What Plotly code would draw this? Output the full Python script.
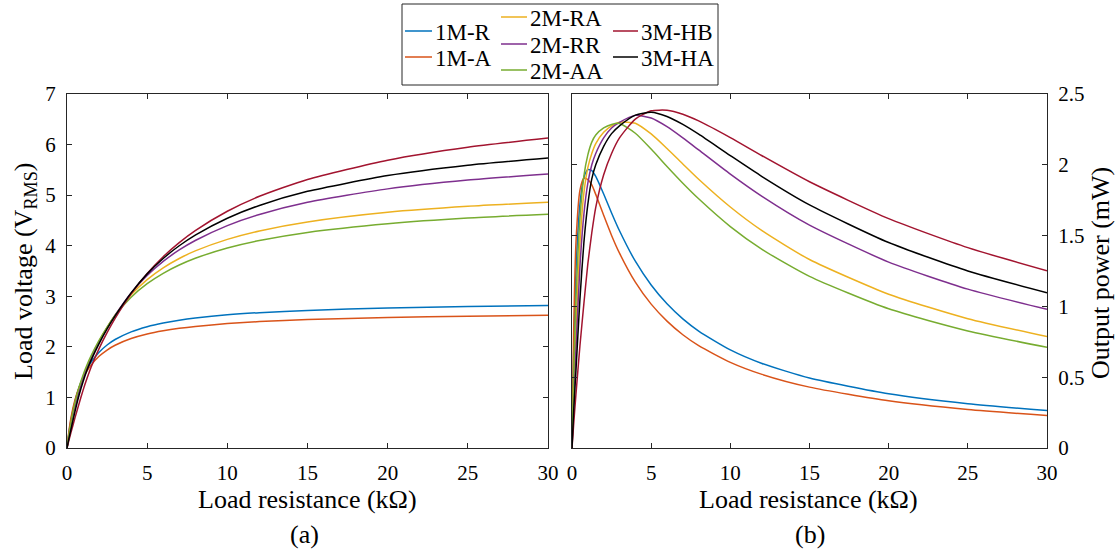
import plotly.graph_objects as go

# ---------------- data ----------------
R = [0, 0.1, 0.25, 0.5, 0.75, 1, 1.25, 1.5, 2, 2.5, 3, 4, 5, 6, 7, 8, 10, 12, 15, 20, 25, 30]

names = ["1M-R", "1M-A", "2M-RA", "2M-RR", "2M-AA", "3M-HB", "3M-HA"]
colors = ["#0072BD", "#D95319", "#EDB120", "#7E2F8E", "#77AC30", "#A2142F", "#000000"]

# Load voltage (V_RMS)
V_1MR = [0, 0.255, 0.559, 0.927, 1.197, 1.402, 1.565, 1.696, 1.894, 2.037, 2.145, 2.297, 2.399, 2.472, 2.527, 2.570, 2.633, 2.676, 2.721, 2.768, 2.796, 2.816]
V_1MA = [0, 0.283, 0.602, 0.954, 1.195, 1.377, 1.524, 1.639, 1.813, 1.937, 2.032, 2.164, 2.254, 2.318, 2.367, 2.405, 2.460, 2.499, 2.539, 2.581, 2.606, 2.624]
V_2MRA = [0, 0.200, 0.461, 0.851, 1.162, 1.407, 1.612, 1.796, 2.112, 2.385, 2.627, 3.029, 3.330, 3.562, 3.747, 3.897, 4.125, 4.292, 4.469, 4.660, 4.778, 4.860]
V_2MRR = [0, 0.179, 0.418, 0.800, 1.112, 1.367, 1.581, 1.766, 2.093, 2.377, 2.625, 3.066, 3.413, 3.690, 3.916, 4.103, 4.398, 4.617, 4.858, 5.124, 5.297, 5.419]
V_2MAA = [0, 0.224, 0.512, 0.900, 1.200, 1.439, 1.643, 1.821, 2.126, 2.390, 2.622, 2.982, 3.249, 3.454, 3.618, 3.752, 3.955, 4.103, 4.263, 4.435, 4.547, 4.620]
V_3MHB = [0, 0.126, 0.308, 0.600, 0.875, 1.140, 1.378, 1.597, 1.965, 2.280, 2.563, 3.048, 3.450, 3.783, 4.062, 4.299, 4.682, 4.977, 5.311, 5.692, 5.948, 6.128]
V_3MHA = [0, 0.158, 0.371, 0.725, 1.043, 1.311, 1.541, 1.732, 2.064, 2.356, 2.612, 3.067, 3.443, 3.748, 3.999, 4.210, 4.544, 4.796, 5.075, 5.387, 5.591, 5.735]

# Output power (mW)
P_1MR = [0, 0.65, 1.25, 1.72, 1.91, 1.966, 1.959, 1.918, 1.794, 1.660, 1.534, 1.319, 1.151, 1.018, 0.912, 0.826, 0.693, 0.597, 0.494, 0.383, 0.313, 0.264]
P_1MA = [0, 0.80, 1.45, 1.82, 1.905, 1.895, 1.858, 1.791, 1.643, 1.501, 1.376, 1.171, 1.016, 0.896, 0.800, 0.723, 0.605, 0.520, 0.430, 0.333, 0.272, 0.2295]
P_2MRA = [0, 0.40, 0.85, 1.45, 1.80, 1.98, 2.08, 2.15, 2.23, 2.275, 2.300, 2.294, 2.218, 2.115, 2.006, 1.898, 1.702, 1.535, 1.331, 1.086, 0.913, 0.787]
P_2MRR = [0, 0.32, 0.70, 1.28, 1.65, 1.87, 2.00, 2.08, 2.19, 2.26, 2.30, 2.349, 2.330, 2.269, 2.190, 2.105, 1.934, 1.777, 1.574, 1.313, 1.122, 0.979]
P_2MAA = [0, 0.50, 1.05, 1.62, 1.92, 2.07, 2.16, 2.21, 2.26, 2.285, 2.292, 2.223, 2.111, 1.988, 1.870, 1.760, 1.564, 1.403, 1.212, 0.983, 0.827, 0.711]
P_3MHB = [0, 0.16, 0.38, 0.72, 1.02, 1.30, 1.52, 1.70, 1.93, 2.08, 2.19, 2.323, 2.381, 2.385, 2.357, 2.310, 2.192, 2.064, 1.880, 1.620, 1.415, 1.252]
P_3MHA = [0, 0.25, 0.55, 1.05, 1.45, 1.72, 1.90, 2.00, 2.13, 2.22, 2.275, 2.351, 2.371, 2.341, 2.285, 2.216, 2.065, 1.917, 1.717, 1.451, 1.250, 1.096]

x_ticks = [0, 5, 10, 15, 20, 25, 30]
v_ticks = [0, 1, 2, 3, 4, 5, 6, 7]
p_ticks = [0, 0.5, 1, 1.5, 2, 2.5]

V_all = [V_1MR, V_1MA, V_2MRA, V_2MRR, V_2MAA, V_3MHB, V_3MHA]
P_all = [P_1MR, P_1MA, P_2MRA, P_2MRR, P_2MAA, P_3MHB, P_3MHA]

# ---------------- figure ----------------
W, H = 1118, 554
FONT = "Liberation Serif, Times New Roman, serif"
AX = "#262626"


def px(x):
    return x / W


def py(y):
    return 1 - y / H


fig = go.Figure()
for name, col, v, p in zip(names, colors, V_all, P_all):
    fig.add_trace(go.Scatter(x=R, y=v, mode="lines", name=name, showlegend=False,
                             line=dict(color=col, width=1.5, shape="spline", smoothing=0.6),
                             xaxis="x", yaxis="y"))
    fig.add_trace(go.Scatter(x=R, y=p, mode="lines", name=name, showlegend=False,
                             line=dict(color=col, width=1.5, shape="spline", smoothing=0.6),
                             xaxis="x2", yaxis="y2"))

ydom = [py(448), py(94)]
common = dict(showgrid=False, zeroline=False, showline=True, linecolor=AX, linewidth=1,
              mirror="ticks", ticks="inside", ticklen=5, tickwidth=1, tickcolor=AX,
              tickfont=dict(family=FONT, size=21, color="black"), automargin=False)

fig.update_layout(
    width=W, height=H, margin=dict(l=0, r=0, t=0, b=0),
    paper_bgcolor="white", plot_bgcolor="white",
    font=dict(family=FONT, color="black"),
    xaxis=dict(domain=[px(67), px(548)], range=[0, 30], tickvals=x_ticks, anchor="y",
               ticklabelstandoff=6, **common),
    yaxis=dict(domain=ydom, range=[0, 7], tickvals=v_ticks, anchor="x",
               ticklabelstandoff=6, **common),
    xaxis2=dict(domain=[px(572), px(1047)], range=[0, 30], tickvals=x_ticks, anchor="y2",
                ticklabelstandoff=6, **common),
    yaxis2=dict(domain=ydom, range=[0, 2.5], tickvals=p_ticks, anchor="x2", side="right",
                ticklabelstandoff=6, **common),
)

ann = []
TF = dict(family=FONT, size=26, color="black")
ann.append(dict(text="Load resistance (kΩ)", x=px(307), y=py(500), xref="paper", yref="paper",
                showarrow=False, font=TF, xanchor="center", yanchor="middle"))
ann.append(dict(text="Load resistance (kΩ)", x=px(808), y=py(500), xref="paper", yref="paper",
                showarrow=False, font=TF, xanchor="center", yanchor="middle"))
ann.append(dict(text="(a)", x=px(304), y=py(534), xref="paper", yref="paper",
                showarrow=False, font=TF, xanchor="center", yanchor="middle"))
ann.append(dict(text="(b)", x=px(810), y=py(534), xref="paper", yref="paper",
                showarrow=False, font=TF, xanchor="center", yanchor="middle"))
ann.append(dict(text="Load voltage (V<sub>RMS</sub>)", x=px(25), y=py(272), xref="paper", yref="paper",
                showarrow=False, font=TF, textangle=-90, xanchor="center", yanchor="middle"))
ann.append(dict(text="Output power (mW)", x=px(1100), y=py(273), xref="paper", yref="paper",
                showarrow=False, font=TF, textangle=-90, xanchor="center", yanchor="middle"))

# manual legend (3 columns as in the reference)
shapes = [dict(type="rect", xref="paper", yref="paper", x0=px(402), x1=px(718), y0=py(85), y1=py(4),
               line=dict(color=AX, width=1), fillcolor="white", layer="above")]
leg_pos = {
    "1M-R": (405, 432, 31), "1M-A": (405, 432, 57),
    "2M-RA": (501, 527, 17), "2M-RR": (501, 527, 44), "2M-AA": (501, 527, 70),
    "3M-HB": (613, 638, 31), "3M-HA": (613, 638, 57),
}
LF = dict(family=FONT, size=23, color="black")
for name, col in zip(names, colors):
    x0, x1, yy = leg_pos[name]
    shapes.append(dict(type="line", xref="paper", yref="paper", x0=px(x0), x1=px(x1),
                       y0=py(yy), y1=py(yy), line=dict(color=col, width=1.5), layer="above"))
    ann.append(dict(text=name, x=px(x1 + 1), y=py(yy + 1), xref="paper", yref="paper",
                    showarrow=False, font=LF, xanchor="left", yanchor="middle"))

fig.update_layout(annotations=ann, shapes=shapes)
fig.write_html("out.html")
